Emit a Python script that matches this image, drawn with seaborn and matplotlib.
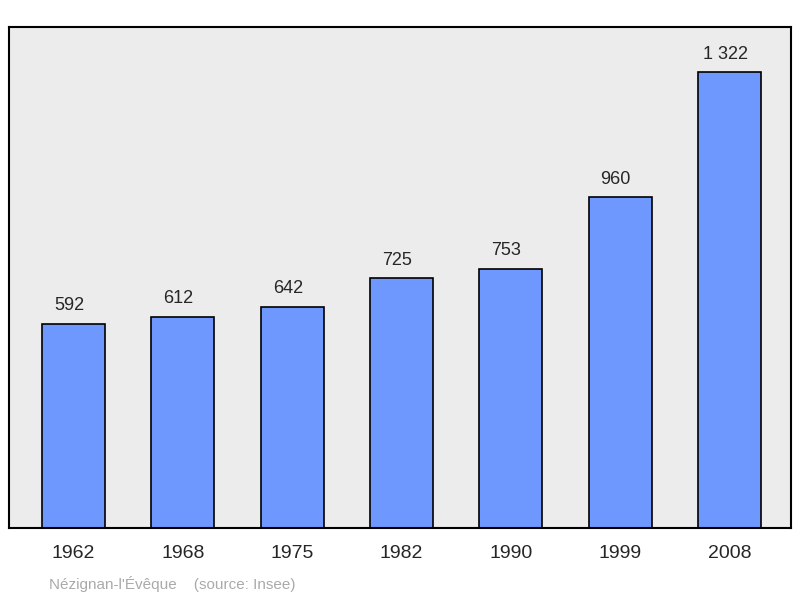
import matplotlib
matplotlib.use("Agg")
import matplotlib.pyplot as plt
import seaborn as sns
import pandas as pd

years = ["1962", "1968", "1975", "1982", "1990", "1999", "2008"]
population = [592, 612, 642, 725, 753, 960, 1322]
value_labels = ["592", "612", "642", "725", "753", "960", "1 322"]

sns.set_style("white")
plt.rcParams['font.family'] = ['Liberation Sans', 'DejaVu Sans']

df = pd.DataFrame({"year": years, "pop": population})
fig = plt.figure(figsize=(8, 5.98), dpi=100)
ax = fig.add_axes([9/800, 1-528/598, 782/800, 501/598])
ax.set_facecolor("#ececec")
sns.barplot(data=df, x="year", y="pop", color="#6f98ff", saturation=1,
            width=0.576, edgecolor="black", linewidth=1.2, ax=ax)
ax.set_xlim(-0.59, 6.563)
ax.set_ylim(0, 1454)
for i, (v, t) in enumerate(zip(population, value_labels)):
    ax.text(i - 0.04, v + 28, t, ha="center", va="bottom", fontsize=13)
ax.set_xlabel("")
ax.set_ylabel("")
ax.set_yticks([])
ax.tick_params(axis="x", length=0, labelsize=14, pad=12)
for s in ax.spines.values():
    s.set_linewidth(1.5)
    s.set_color("black")
fig.text(49/800, 1-584/598, "Nézignan-l'Évêque    (source: Insee)", color="#aaaaaa",
         fontsize=11, va="center")
fig.savefig("out.png", dpi=100)
